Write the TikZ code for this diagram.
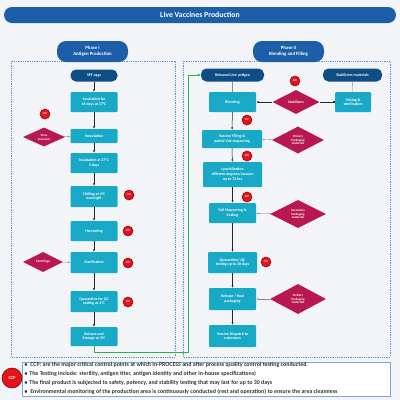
\documentclass[tikz,border=0pt]{standalone}
\usepackage{fontspec}
\setsansfont{Carlito}
\usepackage{tikz}
\usetikzlibrary{arrows.meta,calc,positioning,shapes.geometric}
\definecolor{pagegrey}{HTML}{F3F4F7}
\definecolor{titleblue}{HTML}{1C5EA8}
\definecolor{navy}{HTML}{0F4D85}
\definecolor{tealbox}{HTML}{18A9C6}
\definecolor{crimson}{HTML}{B8184F}
\definecolor{ccpred}{HTML}{E3141E}
\definecolor{dotblue}{HTML}{5B8FCF}
\definecolor{greenline}{HTML}{2DB04B}
\tikzset{
    boxtext/.style={font=\sffamily\bfseries\fontsize{3.9}{4.6}\selectfont,text=white,align=center},
    procbox/.style={boxtext,rectangle,rounded corners=1pt,fill=tealbox,minimum width=47pt,minimum height=20pt,inner sep=0pt},
    pillbox/.style={boxtext,rectangle,rounded corners=5.5pt,fill=navy,minimum width=47pt,minimum height=12pt,inner sep=0pt},
    matdiamond/.style={boxtext,diamond,fill=crimson,inner sep=0pt,font=\sffamily\bfseries\fontsize{3.2}{3.8}\selectfont},
    ccpmark/.style={circle,fill=ccpred,draw=ccpred!60!black,line width=0.6pt,inner sep=0pt,minimum size=10pt,
        text=white,font=\sffamily\bfseries\fontsize{2.7}{3}\selectfont},
    flowarrow/.style={-{Latex[length=2.4pt,width=2pt]},line width=0.5pt,draw=black!85},
    feedarrow/.style={-{Latex[length=2.2pt,width=1.8pt]},line width=0.4pt,draw=black!45},
    phasebox/.style={draw=dotblue,densely dotted,line width=0.8pt},
    phasepill/.style={boxtext,rectangle,rounded corners=9pt,fill=titleblue,minimum width=71pt,minimum height=21pt,inner sep=0pt,
        font=\sffamily\bfseries\fontsize{4.8}{6}\selectfont}
}

\begin{document}
\begin{tikzpicture}[x=1pt,y=-1pt]
  \useasboundingbox (0,0) rectangle (400,400);
  \fill[pagegrey] (0,0) rectangle (400,400);

  % title and phase frames
  \node[boxtext,rectangle,rounded corners=8pt,fill=titleblue,minimum width=392pt,minimum height=16pt,inner sep=0pt,
        font=\sffamily\bfseries\fontsize{7.8}{9}\selectfont] (title) at (200,15) {Live Vaccines Production};
  \draw[phasebox] (11,61) rectangle (175,357);
  \draw[phasebox] (183,61) rectangle (390,357);
  \node[phasepill] (phaseA) at (92.5,51.5) {Phase I\\Antigen Production};
  \node[phasepill] (phaseB) at (288.5,51.5) {Phase II\\Blending and Filling};

  % phase I
  \node[pillbox] (eggs) at (94,75.5) {SPF eggs};
  \node[procbox] (incub) at (94,102) {Incubation for\\18 days at 37°C};
  \node[procbox,minimum height=14pt] (inoc) at (94,136) {Inoculation};
  \node[procbox] (incubB) at (94,163) {Incubation at 37°C\\3 days};
  \node[procbox,minimum height=21pt] (chill) at (94,196.5) {Chilling at 4°C\\overnight};
  \node[procbox] (harv) at (94,231) {Harvesting};
  \node[procbox,minimum height=21pt] (clar) at (94,262.5) {Clarification};
  \node[procbox,minimum height=21pt] (quarA) at (94,301.5) {Quarantine for QC\\testing at 4°C};
  \node[procbox,minimum height=19pt] (relA) at (94,336.5) {Release and\\Storage at 4°C};
  \node[matdiamond,minimum width=42pt,minimum height=19pt] (virus) at (44,137) {Virus\\inoculum};
  \node[matdiamond,minimum width=40pt,minimum height=20pt] (centri) at (43,262) {Centrifuge};

  \draw[flowarrow] (eggs) -- (incub);
  \draw[flowarrow] (incub) -- (inoc);
  \draw[flowarrow] (inoc) -- (incubB);
  \draw[flowarrow] (incubB) -- (chill);
  \draw[flowarrow] (chill) -- (harv);
  \draw[flowarrow] (harv) -- (clar);
  \draw[flowarrow] (clar) -- (quarA);
  \draw[flowarrow] (quarA) -- (relA);
  \draw[feedarrow] (virus) -- (inoc);
  \draw[feedarrow] (centri) -- (clar);

  % phase II
  \node[pillbox,minimum width=63pt,minimum height=13pt] (relag) at (232.5,75) {Released Live antigen};
  \node[pillbox,minimum width=59pt,minimum height=13pt] (stabmat) at (352.5,75) {Stabilizers materials};
  \node[procbox] (blend) at (232.5,102) {Blending};
  \node[matdiamond,minimum width=47pt,minimum height=24pt,font=\sffamily\bfseries\fontsize{3.7}{4.2}\selectfont] (stabd) at (296,102) {Stabilizers};
  \node[procbox,minimum width=36pt] (mix) at (353,102) {Mixing \&\\sterilization};
  \node[procbox,minimum width=60pt,minimum height=18pt] (fill) at (232,139) {Vaccine Filling \&\\partial Vial stoppering};
  \node[matdiamond,minimum width=52pt,minimum height=27pt] (prim) at (298,140) {Primary\\Packaging\\materials};
  \node[procbox,minimum width=59pt,minimum height=25pt] (lyo) at (232.5,174.5) {Lyophilization\\different degrees/vacuum\\up to 72 hrs};
  \node[procbox] (full) at (232.5,213) {Full Stoppering \&\\Sealing};
  \node[matdiamond,minimum width=56pt,minimum height=28pt] (second) at (298,214) {Secondary\\Packaging\\materials};
  \node[procbox,minimum width=49pt,minimum height=21pt] (quarB) at (232.5,262.5) {Quarantine/ QC\\testing up to 30 days};
  \node[procbox,minimum height=22pt] (relB) at (232.5,299) {Release / final\\packaging};
  \node[matdiamond,minimum width=56pt,minimum height=30pt] (tert) at (298,299) {Tertiary\\Packaging\\materials};
  \node[procbox,minimum height=22pt] (disp) at (232.5,336) {Vaccine Dispatch to\\customers};

  \draw[line width=0.4pt,draw=black!45] (relag) -- (blend);
  \draw[line width=0.4pt,draw=black!45] (stabmat) -- (mix);
  \draw[line width=0.5pt,draw=black!85,{Square[length=1.6pt,width=1.6pt]}-] (mix) -- (stabd);
  \draw[flowarrow] (stabd) -- (blend);
  \draw[flowarrow] (blend) -- (fill);
  \draw[flowarrow] (fill) -- (lyo);
  \draw[flowarrow] (lyo) -- (full);
  \draw[flowarrow] (full) -- (quarB);
  \draw[flowarrow] (quarB) -- (relB);
  \draw[flowarrow] (relB) -- (disp);
  \draw[feedarrow] (prim) -- (fill);
  \draw[feedarrow] (second) -- (full);
  \draw[feedarrow] (tert) -- (relB);

  % released antigen goes on to phase II
  \coordinate (turnA) at (94,352);
  \coordinate (turnB) at (188,352);
  \coordinate (turnC) at (188,75);
  \draw[greenline,line width=1pt,-{Latex[length=3pt,width=3pt]}] (relA.south) -- (turnA) -- (turnB) -- (turnC) -- (relag.west);

  % control points
  \foreach \n/\x/\y in {c1/45/114,c2/129/195,c3/128/231,c4/128/263,c5/128/302,
                        c6/295/81,c7/247/120,c8/247/156,c9/247/197,c10/266/262}{
    \node[ccpmark] (\n) at (\x,\y) {CCP};
  }

  % notes
  \node[draw=dotblue!80,fill=white,line width=0.6pt,rectangle,minimum width=368pt,minimum height=34pt,inner sep=0pt] (notes) at (206,379) {};
  \node[ccpmark,minimum size=20pt,font=\sffamily\bfseries\fontsize{4.4}{5}\selectfont] (ccpkey) at (12,378) {CCP};
  \node[anchor=north west,inner sep=0pt,align=left,text=black!80,font=\sffamily\bfseries\fontsize{5.9}{8.9}\selectfont] (notetext) at (24,362)
    {$\bullet$\, CCP: are the major critical control points at which In-PROCESS and after process quality control testing conducted.\\
     $\bullet$ The Testing include: sterility, antigen titer, antigen identity and other in-house specifications)\\
     $\bullet$ The final product is subjected to safety, potency, and stability testing that may last for up to 30 days\\
     $\bullet$\, Environmental monitoring of the production area is continuously conducted (rest and operation) to ensure the area cleanness};
\end{tikzpicture}
\end{document}
